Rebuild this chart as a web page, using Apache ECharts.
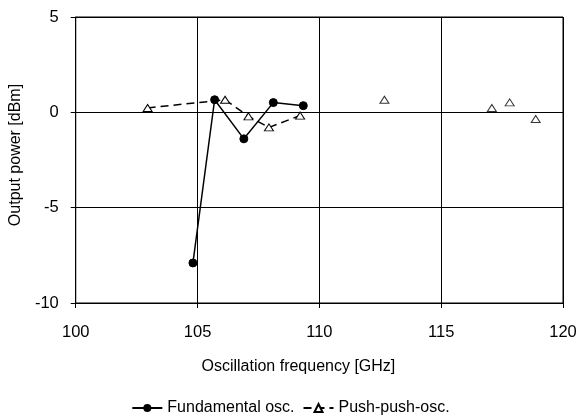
<!DOCTYPE html>
<html>
<head>
<meta charset="utf-8">
<script src="https://cdn.jsdelivr.net/npm/echarts@6/dist/echarts.min.js"></script>
<style>
html,body{margin:0;padding:0;background:#fff;}
#chart{width:581px;height:415px;}
</style>
</head>
<body>
<div id="chart"></div>
<script>
// Fundamental oscillator
var fundFreq  = [104.81, 105.70, 106.90, 108.11, 109.34];
var fundPower = [-7.9, 0.66, -1.39, 0.51, 0.35];
// Push-push oscillator, connected sweep
var pushSweepFreq  = [102.95, 106.13, 107.09, 107.93, 109.21];
var pushSweepPower = [0.23, 0.66, -0.21, -0.79, -0.17];
// Push-push oscillator, isolated measurements
var pushSpotFreq  = [112.67, 117.08, 117.81, 118.88];
var pushSpotPower = [0.66, 0.23, 0.52, -0.35];

var xTicks = [100, 105, 110, 115, 120];
var yTicks = [-10, -5, 0, 5];

function zip(a, b) { return a.map(function (v, i) { return [v, b[i]]; }); }

var FONT = 'Liberation Sans, Arial, sans-serif';
var chart = echarts.init(document.getElementById('chart'), null, {renderer: 'canvas'});
chart.setOption({
  animation: false,
  backgroundColor: '#fff',
  textStyle: {fontFamily: FONT, color: '#000'},
  grid: {left: 72, right: 18, top: 17, bottom: 112, containLabel: false,
         show: true, borderColor: '#000', borderWidth: 1, backgroundColor: 'transparent'},
  legend: {
    top: 395,
    left: 'center',
    itemWidth: 30,
    itemHeight: 10,
    itemGap: 8,
    textStyle: {fontFamily: FONT, fontSize: 16, color: '#000'},
    data: ['Fundamental osc.', 'Push-push-osc.']
  },
  xAxis: {
    type: 'value',
    min: xTicks[0], max: xTicks[xTicks.length - 1], interval: 5,
    name: 'Oscillation frequency [GHz]',
    nameLocation: 'middle',
    nameGap: 56,
    nameTextStyle: {fontFamily: FONT, fontSize: 16, color: '#000', padding: [0, 42, 0, 0]},
    axisLine: {onZero: false, lineStyle: {color: '#000', width: 1}},
    axisTick: {show: true, inside: false, length: 5, lineStyle: {color: '#000'}},
    axisLabel: {margin: 21, fontFamily: FONT, fontSize: 16.5, color: '#000'},
    splitLine: {show: true, lineStyle: {color: '#000', width: 1}}
  },
  yAxis: {
    type: 'value',
    min: yTicks[0], max: yTicks[yTicks.length - 1], interval: 5,
    name: 'Output power [dBm]',
    nameLocation: 'middle',
    nameGap: 41,
    nameTextStyle: {fontFamily: FONT, fontSize: 16, color: '#000', padding: [0, 0, 0, 10]},
    axisLine: {show: true, onZero: false, lineStyle: {color: '#000', width: 1}},
    axisTick: {show: true, inside: false, length: 5, lineStyle: {color: '#000'}},
    axisLabel: {margin: 17, fontFamily: FONT, fontSize: 16.5, color: '#000'},
    splitLine: {show: true, lineStyle: {color: '#000', width: 1}}
  },
  series: [
    {
      name: 'Fundamental osc.',
      type: 'line',
      data: zip(fundFreq, fundPower),
      symbol: 'circle',
      symbolSize: 8,
      itemStyle: {color: '#000', borderColor: '#000'},
      lineStyle: {color: '#000', width: 1.5, type: 'solid'},
      z: 3
    },
    {
      name: 'Push-push-osc.',
      type: 'line',
      data: zip(pushSweepFreq, pushSweepPower),
      symbol: 'triangle',
      symbolSize: [9, 7],
      showAllSymbol: true,
      itemStyle: {color: '#fff', borderColor: '#000', borderWidth: 1},
      lineStyle: {color: '#000', width: 1.5, type: [8, 5]},
      z: 4
    },
    {
      name: 'Push-push-osc.',
      type: 'scatter',
      data: zip(pushSpotFreq, pushSpotPower),
      symbol: 'triangle',
      symbolSize: [9, 7],
      itemStyle: {color: '#fff', borderColor: '#000', borderWidth: 1},
      z: 4
    }
  ]
});
</script>
</body>
</html>
